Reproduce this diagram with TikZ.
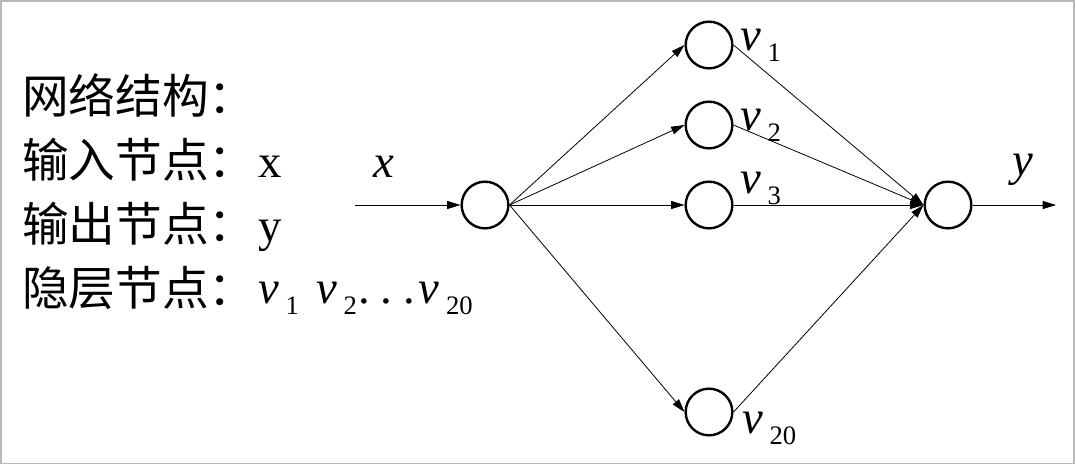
\documentclass[tikz,border=0pt]{standalone}
\usepackage{fontspec}
\setmainfont{Liberation Serif}
\newfontfamily\cjk{Noto Sans CJK SC}
\usetikzlibrary{arrows.meta,positioning}
\newcommand{\vlab}[1]{\textit{v}\hspace{5pt}\raisebox{-8.5pt}{\fontsize{20}{22}\selectfont #1}}

\begin{document}
\begin{tikzpicture}[x=0.75pt, y=-0.75pt,
      neuron/.style={circle, draw, line width=1.8pt, minimum size=35pt, inner sep=0pt},
      conn/.style={line width=0.6pt, -{Triangle[length=10pt, width=6pt]}},
      bigtxt/.style={font=\fontsize{35}{40}\selectfont, inner sep=0pt, anchor=base west},
      vtxt/.style={font=\fontsize{35}{40}\selectfont, inner sep=0pt, anchor=base west}]
    \useasboundingbox (0,0) rectangle (1075,465);
    \draw[gray!55, line width=1.2pt] (0.8,0.8) rectangle (1074.2,463.5);
    % left legend
    \node[bigtxt] (t1) at (22,113) {\cjk 网络结构：};
    \node[bigtxt] (t2) at (22,177) {\cjk 输入节点：};
    \node[bigtxt] (t3) at (22,241) {\cjk 输出节点：};
    \node[bigtxt] (t4) at (22,305) {\cjk 隐层节点：};
    \node[bigtxt] (t2v) at (258,177) {x};
    \node[bigtxt] (t3v) at (258,241) {y};
    \node[vtxt] (t4v) at (258,303) {\vlab{1}\hspace{13pt}\vlab{2}\hspace{1pt}.\hspace{8pt}.\hspace{8pt}.\hspace{3pt}\vlab{20}};
    % network
    \node[neuron] (in) at (485,205) {};
    \node[neuron] (h1) at (709,45) {};
    \node[neuron] (h2) at (709,125) {};
    \node[neuron] (h3) at (709,205) {};
    \node[neuron] (h20) at (709,412) {};
    \node[neuron] (out) at (948,205) {};
    \coordinate (xin) at (355,205);
    \coordinate (yout) at (1056,205);
    \draw[conn] (xin) -- (in.west);
    \foreach \h in {h1,h2,h3,h20}{
      \draw[conn] (in.east) -- (\h.west);
      \draw[conn] (\h.east) -- (out.west);
    }
    \draw[conn] (out.east) -- (yout);
    % labels
    \node[vtxt] (lx) at (373,177) {\textit{x}};
    \node[vtxt] (ly) at (1012,175) {\textit{y}};
    \node[vtxt] (l1) at (740,50) {\vlab{1}};
    \node[vtxt] (l2) at (740,130) {\vlab{2}};
    \node[vtxt] (l3) at (740,193) {\vlab{3}};
    \node[vtxt] (l20) at (742,433) {\vlab{20}};
\end{tikzpicture}
\end{document}
